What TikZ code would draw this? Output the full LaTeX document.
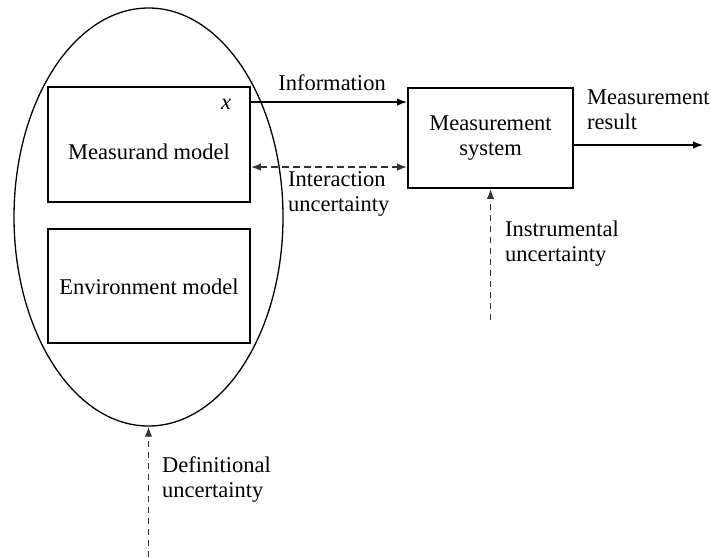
\documentclass[tikz,border=0pt]{standalone}
\usepackage{fontspec}
\setmainfont{Liberation Serif}
\usetikzlibrary{shapes.geometric,arrows.meta,calc}
\begin{document}
\begin{tikzpicture}[x=1pt,y=-1pt,
  every node/.style={font=\fontsize{22.5}{25}\selectfont},
  boxst/.style={draw, line width=1.9pt, inner sep=0pt},
  lbl/.style={inner sep=0pt, align=left, anchor=west},
  arr/.style={-{Latex[length=10pt,width=7.5pt]}, line width=1.4pt},
  darr/.style={-{Latex[length=10pt,width=7.5pt]}, line width=1.5pt, dash pattern=on 6.5pt off 4.5pt, draw=black!80},
  ddarr/.style={{Latex[length=10pt,width=7.5pt]}-{Latex[length=10pt,width=7.5pt]}, line width=1.5pt, dash pattern=on 6.5pt off 4.5pt, draw=black!80}]
\useasboundingbox (0,0) rectangle (711,557);
\node[draw, ellipse, line width=1.3pt, minimum width=269pt, minimum height=418pt, inner sep=0pt] (ell) at (148.5,217) {};
\node[boxst, minimum width=202pt, minimum height=115pt] (mm) at (149,144.5) {};
\node[inner sep=0pt] (mmt) at (149,152) {Measurand model};
\node[inner sep=0pt] (xl) at (226,104) {\itshape x};
\node[boxst, minimum width=202pt, minimum height=114pt] (em) at (149,286) {};
\node[inner sep=0pt] (emt) at (149,287) {Environment model};
\node[boxst, minimum width=165pt, minimum height=100pt, align=center] (ms) at (490.5,138) {Measurement\\system};
\coordinate (out) at (703,145);
\coordinate (ins) at (490.5,320);
\coordinate (def) at (148.5,557);
\draw[arr] ([yshift=-16pt]mm.north east) -- ([yshift=-16pt]mm.north east -| ms.west);
\draw[ddarr] ([yshift=-81pt]mm.north east) -- ([yshift=-81pt]mm.north east -| ms.west);
\draw[arr] ([yshift=-7pt]ms.east) -- (out);
\draw[darr] (ins) -- (ms.south);
\draw[darr] (def) -- (ell.south);
\node[inner sep=0pt] (infl) at (332,83) {Information};
\node[lbl] (intl) at (288,194) {Interaction\\uncertainty};
\node[lbl] (resl) at (587,110) {Measurement\\result};
\node[lbl] (insl) at (505,244) {Instrumental\\uncertainty};
\node[lbl] (defl) at (162,479) {Definitional\\uncertainty};
\end{tikzpicture}
\end{document}
